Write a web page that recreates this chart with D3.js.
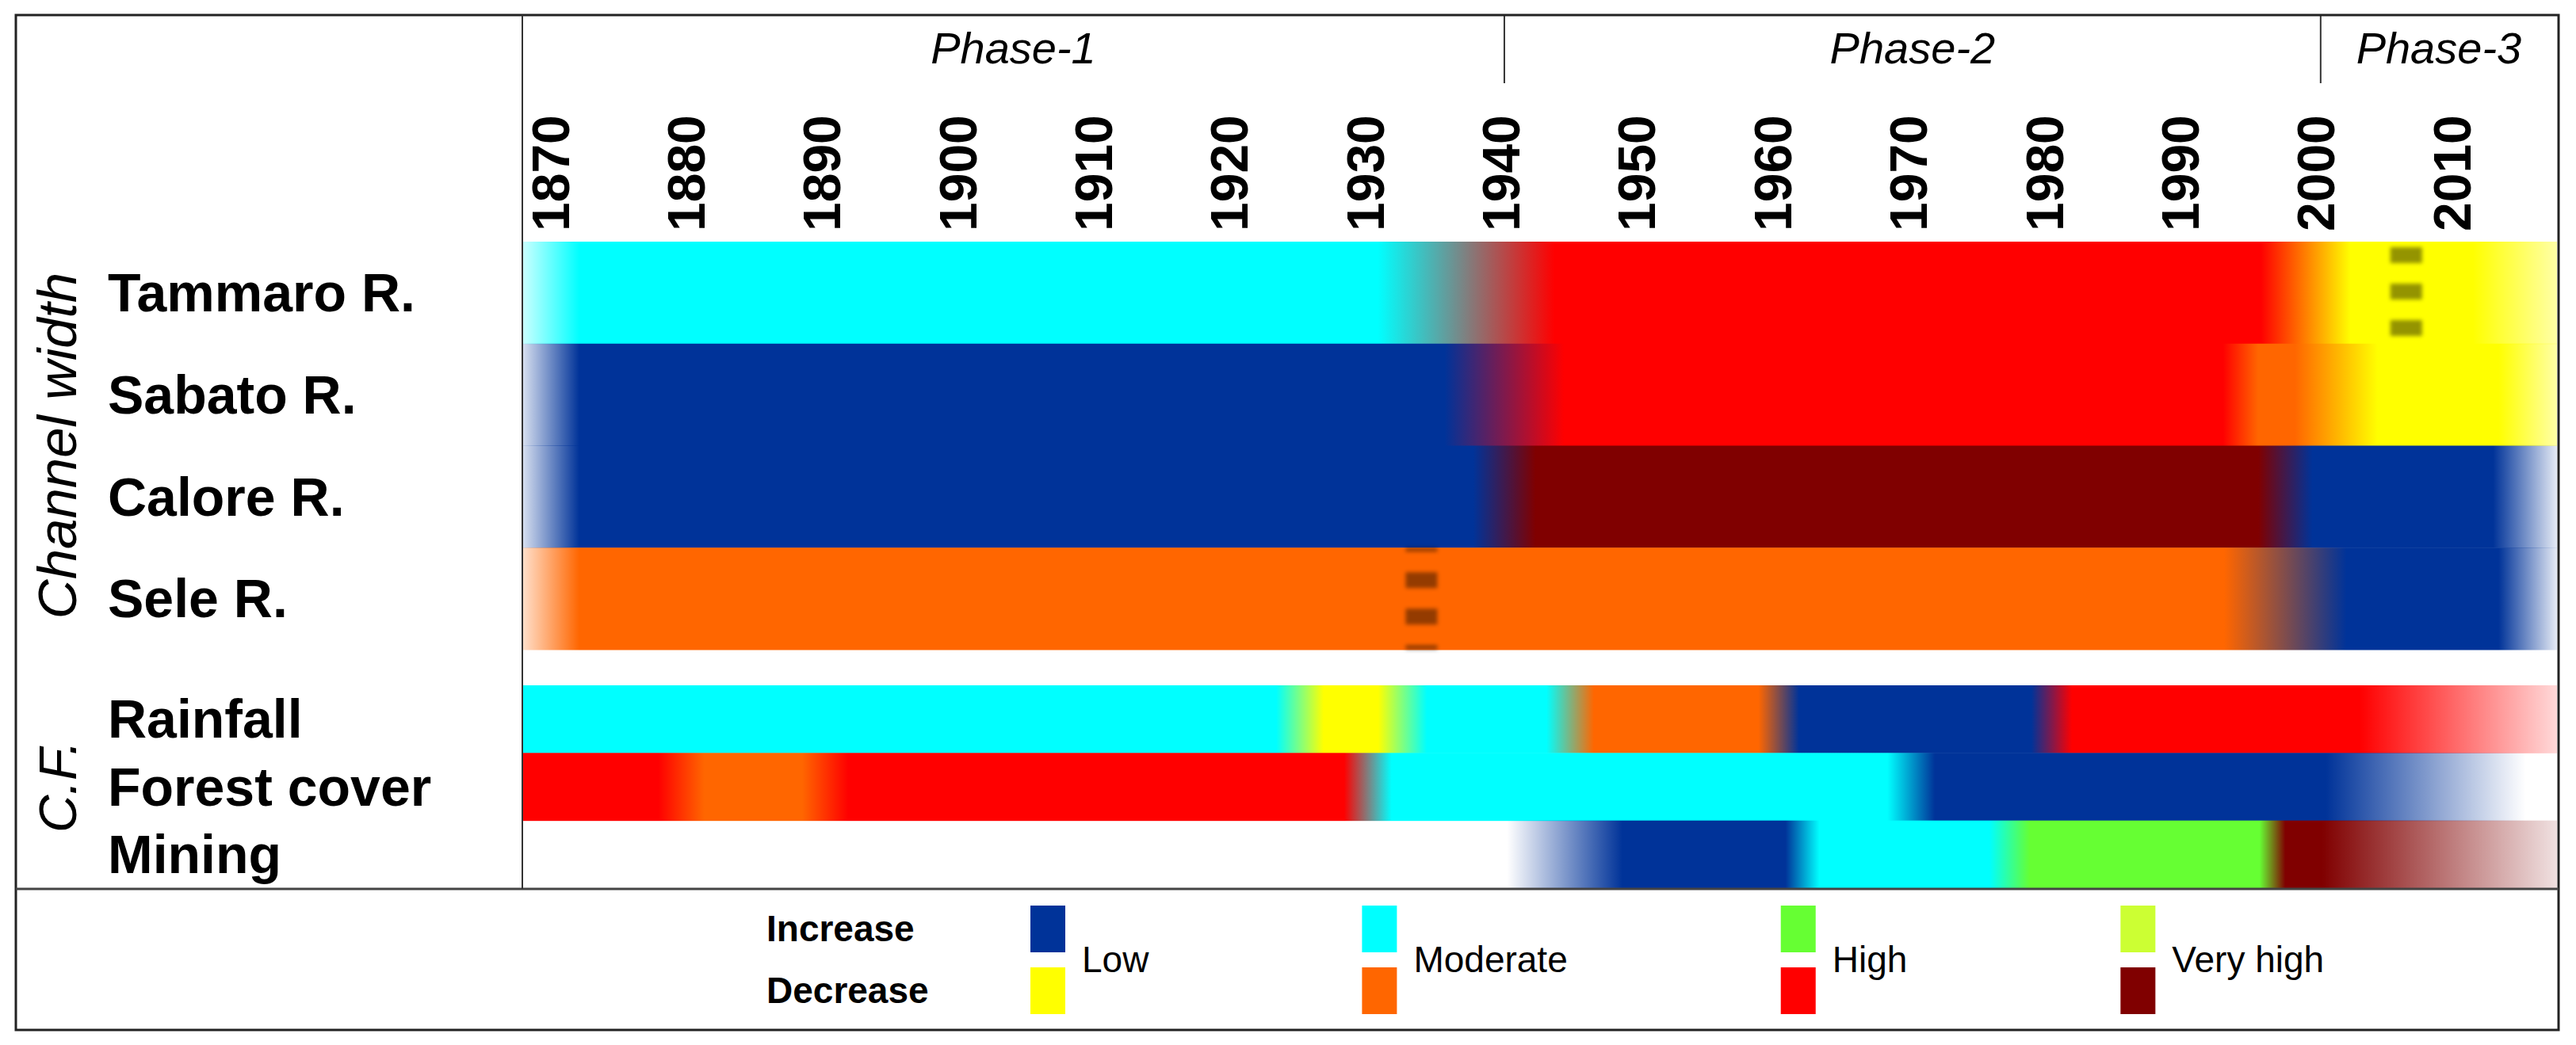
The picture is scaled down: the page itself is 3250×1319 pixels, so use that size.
<!DOCTYPE html>
<html>

<head>
    <meta charset='utf-8' />
    <title>Channel width changes and controlling factors</title>
    <script charset="utf-8" src="https://d3js.org/d3.v7.min.js"></script>
    <style>
        body {
            margin: 0;
            background: #ffffff;
        }

        svg text {
            font-family: 'Liberation Sans', Arial, Helvetica, sans-serif;
            fill: #000000;
        }
    </style>
</head>

<body>
    <div id="chartContainer"></div>
</body>

<script>
    // legend classes: Low / Moderate / High / Very high, for increase and decrease
    var levels = ["Low", "Moderate", "High", "Very high"]
    var levelCodes = ["L", "M", "H", "V"]
    var increaseColors = ["#003399", "#00ffff", "#66ff33", "#ccff33"]
    var decreaseColors = ["#ffff00", "#ff6600", "#ff0000", "#800000"]

    var years = [1870, 1880, 1890, 1900, 1910, 1920, 1930, 1940, 1950, 1960, 1970, 1980, 1990, 2000, 2010]
    var phases = ["Phase-1", "Phase-2", "Phase-3"]
    var phaseBreaks = [1868, 1940.3, 2000.4, 2017.8]

    var channelRows = ["Tammaro R.", "Sabato R.", "Calore R.", "Sele R."]
    var factorRows = ["Rainfall", "Forest cover", "Mining"]

    // colour stops of every row: [year, class (+ increase / - decrease), opacity]
    var tammaro = [[1868, "M+", 0.2], [1872.2, "M+", 1], [1931, "M+", 1], [1944, "H-", 1], [1996, "H-", 1],
        [2002.6, "L-", 1], [2011.6, "L-", 1], [2017.8, "L-", 0.35]]
    var sabato = [[1868, "L+", 0.15], [1872.2, "L+", 1], [1935.9, "L+", 1], [1944.7, "H-", 1], [1993.2, "H-", 1],
        [1995.8, "M-", 1], [1998.5, "M-", 1], [2004.6, "L-", 1], [2013.5, "L-", 1], [2017.8, "L-", 0.35]]
    var calore = [[1868, "L+", 0.15], [1872.2, "L+", 1], [1938, "L+", 1], [1942.6, "V-", 1], [1995.8, "V-", 1],
        [1999.8, "L+", 1], [2013.1, "L+", 1], [2017.8, "L+", 0.1]]
    var sele = [[1868, "M-", 0.2], [1872.2, "M-", 1], [1993.3, "M-", 1], [2002.3, "L+", 1], [2013.5, "L+", 1],
        [2017.8, "L+", 0.1]]
    var rainfall = [[1868, "M+", 1], [1923.5, "M+", 1], [1927, "L-", 1], [1931, "L-", 1], [1934.6, "M+", 1],
        [1943.4, "M+", 1], [1946.9, "M-", 1], [1959, "M-", 1], [1962, "L+", 1], [1979.1, "L+", 1],
        [1982.1, "H-", 1], [2003.3, "H-", 1], [2017.8, "H-", 0.15]]
    var forest = [[1868, "H-", 1], [1878, "H-", 1], [1881.4, "M-", 1], [1888.6, "M-", 1], [1892, "H-", 1],
        [1928.5, "H-", 1], [1932, "M+", 1], [1968.5, "M+", 1], [1972, "L+", 1], [2000.8, "L+", 1],
        [2015.5, "L+", 0], [2017.8, "L+", 0]]
    var mining = [[1868, "L+", 0], [1940.5, "L+", 0], [1949, "L+", 1], [1961, "L+", 1], [1963.5, "M+", 1],
        [1976, "M+", 1], [1979, "H+", 1], [1995.9, "H+", 1], [1997.8, "V-", 1], [2000.5, "V-", 1],
        [2017.8, "V-", 0.12]]

    // dashed marks inside two rows: [row, year]
    var marks = [["Tammaro R.", 2006.7], ["Sele R.", 1934.2]]

    var rowStops = {
        "Tammaro R.": tammaro, "Sabato R.": sabato, "Calore R.": calore, "Sele R.": sele,
        "Rainfall": rainfall, "Forest cover": forest, "Mining": mining
    }

    function classColor(code) {
        var i = levelCodes.indexOf(code[0])
        return code[1] == "+" ? increaseColors[i] : decreaseColors[i]
    }

    var width = 3250
    var height = 1319

    var svg = d3.select("#chartContainer").append("svg")
        .attr("width", width)
        .attr("height", height)

    var x = d3.scaleLinear().domain([phaseBreaks[0], phaseBreaks[3]]).range([659, 3226])
    var yChannel = d3.scaleBand().domain(channelRows).range([305, 820])
    var yFactor = d3.scaleBand().domain(factorRows).range([865, 1121])

    function rowY(name) {
        return channelRows.indexOf(name) >= 0 ? yChannel(name) : yFactor(name)
    }
    function rowH(name) {
        return channelRows.indexOf(name) >= 0 ? yChannel.bandwidth() : yFactor.bandwidth()
    }

    var defs = svg.append("defs")
    // user space region, a vertical line has no width of its own
    defs.append("filter").attr("id", "soft")
        .attr("filterUnits", "userSpaceOnUse")
        .attr("x", 0).attr("y", 0).attr("width", width).attr("height", height)
        .append("feGaussianBlur").attr("stdDeviation", 2.5)

    var allRows = channelRows.concat(factorRows)

    // one gradient per row, stops placed with the year scale
    allRows.forEach(function (name, i) {
        var x0 = x.range()[0], x1 = x.range()[1]
        var grad = defs.append("linearGradient")
            .attr("id", "grad" + i)
            .attr("gradientUnits", "userSpaceOnUse")
            .attr("x1", x0).attr("x2", x1)
            .attr("y1", 0).attr("y2", 0)
        grad.selectAll("stop")
            .data(rowStops[name])
            .enter()
            .append("stop")
            .attr("offset", function (d) { return (x(d[0]) - x0) / (x1 - x0) })
            .attr("stop-color", function (d) { return classColor(d[1]) })
            .attr("stop-opacity", function (d) { return d[2] })
    })

    svg.selectAll("rect.row")
        .data(allRows)
        .enter()
        .append("rect")
        .attr("class", "row")
        .attr("x", x.range()[0])
        .attr("width", x.range()[1] - x.range()[0])
        .attr("y", function (d) { return rowY(d) })
        .attr("height", function (d) { return rowH(d) + 0.5 })
        .attr("fill", function (d, i) { return "url(#grad" + i + ")" })

    // blurred dashed marks
    var dashOffset = { "Tammaro R.": 39, "Sele R.": 15 }
    svg.selectAll("line.mark")
        .data(marks)
        .enter()
        .append("line")
        .attr("class", "mark")
        .attr("x1", function (d) { return x(d[1]) })
        .attr("x2", function (d) { return x(d[1]) })
        .attr("y1", function (d) { return rowY(d[0]) })
        .attr("y2", function (d) { return rowY(d[0]) + rowH(d[0]) })
        .attr("stroke", "rgba(0,0,0,0.42)")
        .attr("stroke-width", 40)
        .attr("stroke-dasharray", "20 26")
        .attr("stroke-dashoffset", function (d) { return dashOffset[d[0]] })
        .attr("filter", "url(#soft)")

    // year axis on top, labels turned vertical
    var axis = svg.append("g")
        .attr("transform", "translate(0,292)")
        .call(d3.axisTop(x).tickValues(years).tickSize(0).tickFormat(d3.format("d")))
    axis.select(".domain").remove()
    axis.selectAll("text")
        .attr("transform", "rotate(-90)")
        .attr("x", 0)
        .attr("y", 0)
        .attr("dy", "0.36em")
        .style("text-anchor", "start")
        .style("font-size", "66px")
        .style("font-weight", "bold")
        .style("font-family", "'Liberation Sans', Arial, sans-serif")
        .attr("fill", "#000")

    // phase header
    svg.selectAll("line.phase")
        .data(phaseBreaks.slice(1, 3))
        .enter()
        .append("line")
        .attr("x1", function (d) { return x(d) })
        .attr("x2", function (d) { return x(d) })
        .attr("y1", 19)
        .attr("y2", 105)
        .attr("stroke", "#333")
        .attr("stroke-width", 2)

    svg.selectAll("text.phase")
        .data(phases)
        .enter()
        .append("text")
        .attr("x", function (d, i) { return (x(phaseBreaks[i]) + x(phaseBreaks[i + 1])) / 2 })
        .attr("y", 80)
        .attr("text-anchor", "middle")
        .style("font-size", "56px")
        .style("font-style", "italic")
        .text(function (d) { return d })

    // row names
    svg.selectAll("text.rowname")
        .data(allRows)
        .enter()
        .append("text")
        .attr("x", 136)
        .attr("y", function (d) { return rowY(d) + rowH(d) / 2 })
        .attr("dy", "0.35em")
        .style("font-size", "68px")
        .style("font-weight", "bold")
        .text(function (d) { return d })

    // group titles, rotated
    svg.append("text")
        .attr("transform", "translate(96," + (305 + 820) / 2 + ") rotate(-90)")
        .attr("text-anchor", "middle")
        .style("font-size", "69px")
        .style("font-style", "italic")
        .text("Channel width")

    svg.append("text")
        .attr("transform", "translate(96," + (yFactor.range()[0] + yFactor.range()[1]) / 2 + ") rotate(-90)")
        .attr("text-anchor", "middle")
        .style("font-size", "66px")
        .style("font-style", "italic")
        .text("C.F.")

    // frame
    svg.append("rect")
        .attr("x", 20).attr("y", 19)
        .attr("width", 3208).attr("height", 1281)
        .attr("fill", "none")
        .attr("stroke", "#222")
        .attr("stroke-width", 3)
    svg.append("line")
        .attr("x1", 20).attr("x2", 3228)
        .attr("y1", 1122).attr("y2", 1122)
        .attr("stroke", "#444")
        .attr("stroke-width", 3)
    svg.append("line")
        .attr("x1", 659).attr("x2", 659)
        .attr("y1", 19).attr("y2", 1122)
        .attr("stroke", "#333")
        .attr("stroke-width", 2)

    // legend
    svg.selectAll("text.dir")
        .data(["Increase", "Decrease"])
        .enter()
        .append("text")
        .attr("x", 967)
        .attr("y", function (d, i) { return i == 0 ? 1172 : 1250 })
        .attr("dy", "0.35em")
        .style("font-size", "46px")
        .style("font-weight", "bold")
        .text(function (d) { return d })

    var lx = 1300
    levels.forEach(function (lev, i) {
        var g = svg.append("g").attr("transform", "translate(" + lx + ",0)")
        g.append("rect").attr("x", 0).attr("y", 1143).attr("width", 44).attr("height", 59)
            .attr("fill", increaseColors[i])
        g.append("rect").attr("x", 0).attr("y", 1221).attr("width", 44).attr("height", 59)
            .attr("fill", decreaseColors[i])
        var t = g.append("text")
            .attr("x", 65)
            .attr("y", 1211)
            .attr("dy", "0.35em")
            .style("font-size", "46px")
            .text(lev)
        lx = lx + 65 + t.node().getComputedTextLength() + 269
    })
</script>

</html>
